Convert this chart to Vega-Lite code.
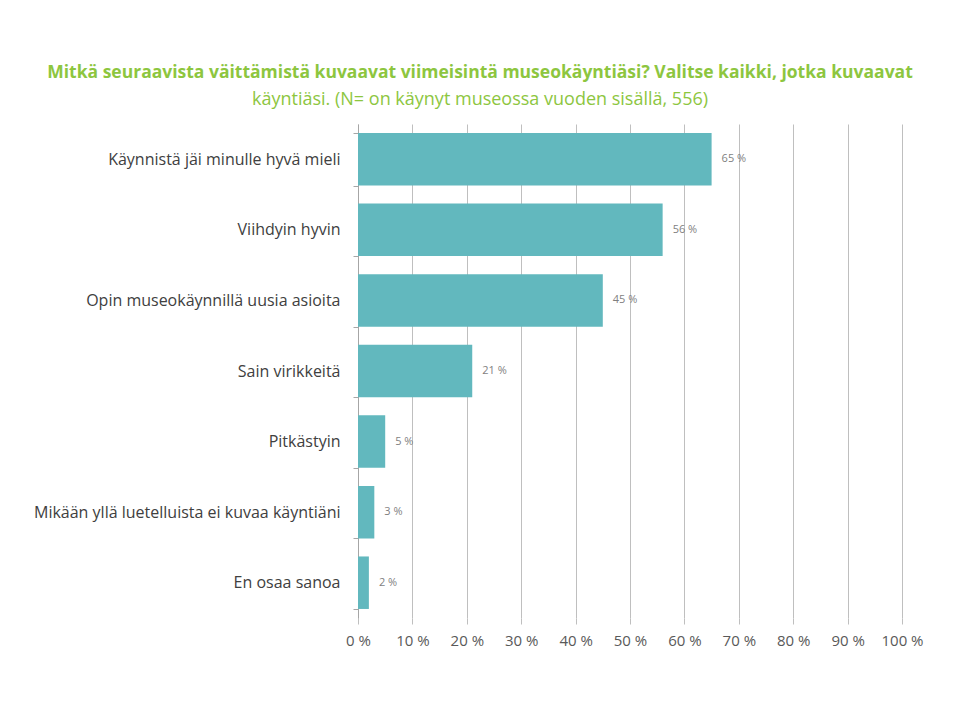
{
  "$schema": "https://vega.github.io/schema/vega-lite/v6.json",
  "autosize": {"type": "none"},
  "width": 544,
  "height": 494,
  "padding": {"left": 358, "top": 124, "right": 58, "bottom": 90},
  "background": "white",
  "title": {
    "text": "Mitkä seuraavista väittämistä kuvaavat viimeisintä museokäyntiäsi? Valitse kaikki, jotka kuvaavat",
    "subtitle": "käyntiäsi. (N= on käynyt museossa vuoden sisällä, 556)",
    "anchor": "middle",
    "dx": -150,
    "offset": 7,
    "font": "Open Sans",
    "fontSize": 17.5,
    "fontWeight": "bold",
    "color": "#8DC63F",
    "subtitleFont": "Open Sans",
    "subtitleFontSize": 18,
    "subtitleColor": "#8DC63F",
    "subtitlePadding": 10
  },
  "data": {
    "values": [
      {"vaihtoehto": "Käynnistä jäi minulle hyvä mieli", "osuus": 65},
      {"vaihtoehto": "Viihdyin hyvin", "osuus": 56},
      {"vaihtoehto": "Opin museokäynnillä uusia asioita", "osuus": 45},
      {"vaihtoehto": "Sain virikkeitä", "osuus": 21},
      {"vaihtoehto": "Pitkästyin", "osuus": 5},
      {"vaihtoehto": "Mikään yllä luetelluista ei kuvaa käyntiäni", "osuus": 3},
      {"vaihtoehto": "En osaa sanoa", "osuus": 2}
    ]
  },
  "encoding": {
    "y": {
      "field": "vaihtoehto",
      "type": "nominal",
      "sort": null,
      "scale": {"paddingInner": 0.256, "paddingOuter": 0.128},
      "axis": {
        "title": null,
        "tickBand": "extent",
        "domainColor": "#a6a6a6",
        "tickColor": "#a6a6a6",
        "tickSize": 5,
        "labelPadding": 13,
        "labelFont": "Open Sans",
        "labelFontSize": 16,
        "labelColor": "#404040",
        "labelLimit": 400
      }
    },
    "x": {
      "field": "osuus",
      "type": "quantitative",
      "scale": {"domain": [0, 100], "nice": false},
      "axis": {
        "title": null,
        "values": [0, 10, 20, 30, 40, 50, 60, 70, 80, 90, 100],
        "labelExpr": "datum.value + ' %'",
        "grid": true,
        "gridColor": "#bfbfbf",
        "domain": false,
        "tickColor": "#bfbfbf",
        "tickSize": 6,
        "labelPadding": 9,
        "labelFont": "Open Sans",
        "labelFontSize": 15,
        "labelColor": "#595959",
        "labelFlush": false
      }
    }
  },
  "layer": [
    {"mark": {"type": "bar", "color": "#62B8BE"}},
    {
      "mark": {
        "type": "text",
        "align": "left",
        "dx": 10,
        "font": "Open Sans",
        "fontSize": 11,
        "color": "#7f7f7f",
        "text": {"expr": "datum.osuus + ' %'"}
      }
    }
  ],
  "config": {"view": {"stroke": null}}
}
